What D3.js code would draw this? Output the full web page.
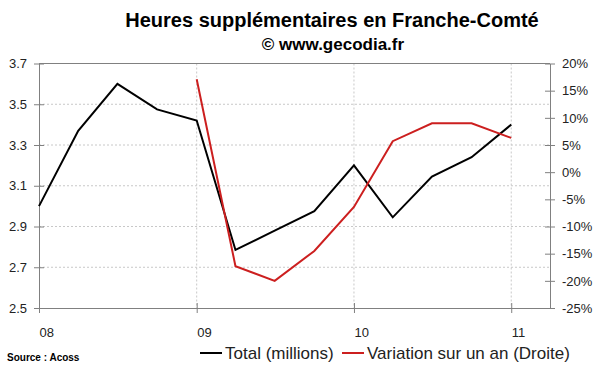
<!DOCTYPE html>
<html>
<head>
<meta charset="utf-8">
<script src="https://cdn.jsdelivr.net/npm/d3@7"></script>
<style>
  body { margin: 0; background: #fff; }
  svg { font-family: "Liberation Sans", Arial, sans-serif; }
  .axis path, .axis line { stroke: #808080; }
  .axis text { fill: #222; font-size: 13px; }
</style>
</head>
<body>
<div id="graf"></div>
<script>
// donnees trimestrielles
const mois = ["2008-01", "2008-04", "2008-07", "2008-10", "2009-01", "2009-04", "2009-07",
  "2009-10", "2010-01", "2010-04", "2010-07", "2010-10", "2011-01"]
const total = [3.0, 3.37, 3.60, 3.475, 3.42, 2.785, 2.88, 2.975, 3.20, 2.945, 3.145, 3.24, 3.40]
const variation = [null, null, null, null, 17.1, -17.3, -20.0, -14.5, -6.4, 5.7, 9.0, 9.0, 6.3]
const ticksGauche = [2.5, 2.7, 2.9, 3.1, 3.3, 3.5, 3.7]
const ticksDroite = [-25, -20, -15, -10, -5, 0, 5, 10, 15, 20]

const anchoTotal = 600
const altoTotal = 372
const margins = { top: 63.5, right: 50, bottom: 64, left: 39 }
const ancho = anchoTotal - margins.left - margins.right
const alto = altoTotal - margins.top - margins.bottom

const svg = d3.select("#graf")
  .append("svg")
  .attr("width", anchoTotal)
  .attr("height", altoTotal)

// titres
svg.append("text")
  .attr("x", 332).attr("y", 27)
  .attr("text-anchor", "middle")
  .style("font-size", "20px").style("font-weight", "bold")
  .text("Heures supplémentaires en Franche-Comté")
svg.append("text")
  .attr("x", 333).attr("y", 50)
  .attr("text-anchor", "middle")
  .style("font-size", "17px").style("font-weight", "bold")
  .text("© www.gecodia.fr")

const g = svg.append("g")
  .attr("transform", `translate(${margins.left}, ${margins.top})`)

const parse = d3.timeParse("%Y-%m")
const data = mois.map((m, i) => ({ date: parse(m), total: total[i], variation: variation[i] }))

// Escaladores
const x = d3.scaleTime()
  .domain([parse("2008-01"), parse("2011-04")])
  .range([0, ancho])
const y = d3.scaleLinear().domain([2.5, 3.7]).range([alto, 0])
const y2 = d3.scaleLinear().domain([-25, 20]).range([alto, 0])

// grille
g.selectAll(".hgrid")
  .data(ticksGauche.slice(1, -1))
  .enter().append("line")
  .attr("x1", 0).attr("x2", ancho)
  .attr("y1", d => y(d)).attr("y2", d => y(d))
  .attr("stroke", "#c8c8c8").attr("stroke-dasharray", "2,2")
const anos = x.ticks(d3.timeYear.every(1))
g.selectAll(".vgrid")
  .data(anos.slice(1))
  .enter().append("line")
  .attr("x1", d => x(d)).attr("x2", d => x(d))
  .attr("y1", 0).attr("y2", alto)
  .attr("stroke", "#c8c8c8").attr("stroke-dasharray", "2,2")

// cadre
g.append("line").attr("x1", 0).attr("x2", ancho).attr("y1", 0).attr("y2", 0)
  .attr("stroke", "#808080")

// axes
const yAxis = d3.axisLeft(y).tickValues(ticksGauche).tickFormat(d3.format(".1f"))
  .tickSizeInner(5).tickSizeOuter(0).tickPadding(7)
const yAxisGroup = g.append("g").classed("axis", true).call(yAxis)
yAxisGroup.selectAll(".tick line").attr("x2", -5).attr("x1", 5)

const y2Axis = d3.axisRight(y2).tickValues(ticksDroite).tickFormat(d => d + "%")
  .tickSizeInner(5).tickSizeOuter(0).tickPadding(7)
const y2AxisGroup = g.append("g").classed("axis", true)
  .attr("transform", `translate(${ancho}, 0)`).call(y2Axis)
y2AxisGroup.selectAll(".tick line").attr("x1", -5).attr("x2", 5)

const xAxis = d3.axisBottom(x).tickValues(anos).tickFormat(d3.timeFormat("%y"))
  .tickSizeInner(5).tickSizeOuter(0)
const xAxisGroup = g.append("g").classed("axis", true)
  .attr("transform", `translate(0, ${alto})`).call(xAxis)
xAxisGroup.selectAll(".tick line").attr("y1", -5).attr("y2", 5)
xAxisGroup.selectAll(".tick text")
  .style("text-anchor", "start")
  .attr("dx", 0).attr("y", 20)

// courbes
const lineaTotal = d3.line().x(d => x(d.date)).y(d => y(d.total))
const lineaVar = d3.line()
  .defined(d => d.variation !== null)
  .x(d => x(d.date)).y(d => y2(d.variation))

g.append("path").datum(data)
  .attr("d", lineaTotal)
  .attr("fill", "none").attr("stroke", "#000").attr("stroke-width", 2)
g.append("path").datum(data)
  .attr("d", lineaVar)
  .attr("fill", "none").attr("stroke", "#cc1f1f").attr("stroke-width", 2)

// legende
const legende = [
  { nom: "Total (millions)", color: "#000", x: 200 },
  { nom: "Variation sur un an (Droite)", color: "#cc1f1f", x: 342 },
]
const leg = svg.selectAll(".leg").data(legende).enter().append("g")
  .attr("transform", d => `translate(${d.x}, 353)`)
leg.append("line").attr("x1", 0).attr("x2", 22).attr("y1", 0).attr("y2", 0)
  .attr("stroke", d => d.color).attr("stroke-width", 2)
leg.append("text").attr("x", 25).attr("y", 6)
  .style("font-size", "17px").attr("fill", "#222")
  .text(d => d.nom)

svg.append("text")
  .attr("x", 7).attr("y", 361)
  .style("font-size", "10px").style("font-weight", "bold")
  .text("Source : Acoss")
</script>
</body>
</html>
